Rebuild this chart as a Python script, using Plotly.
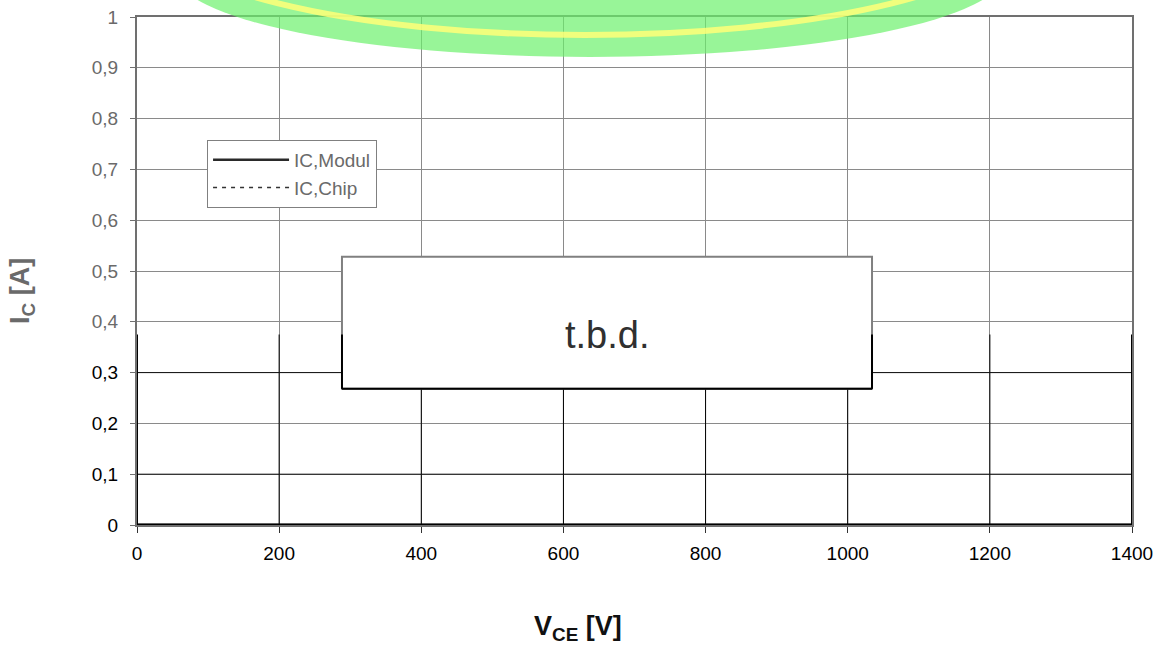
import plotly.graph_objects as go

# ---- data ----
x_ticks = [0, 200, 400, 600, 800, 1000, 1200, 1400]
y_ticks = [0, 0.1, 0.2, 0.3, 0.4, 0.5, 0.6, 0.7, 0.8, 0.9, 1]
y_tick_labels = ["0", "0,1", "0,2", "0,3", "0,4", "0,5", "0,6", "0,7", "0,8", "0,9", "1"]
series_names = ["IC,Modul", "IC,Chip"]
vce_modul = [0, 1400]
ic_modul = [0, 0]
vce_chip = [0, 1400]
ic_chip = [0, 0]
tbd_box_x = [288.4, 1034.2]
tbd_box_y = [0.268, 0.528]
dark_limit = 0.375  # lower part of the picture is rendered darker

FONT = "Arial, Liberation Sans, sans-serif"
GRAY_TXT = "#6a6a6a"
GRID = "#8a8a8a"

fig = go.Figure()
fig.add_trace(go.Scatter(x=vce_chip, y=ic_chip, mode="lines", name=series_names[1],
                         line=dict(color="#333333", width=1.3, dash="4px,5px")))
fig.add_trace(go.Scatter(x=vce_modul, y=ic_modul, mode="lines", name=series_names[0],
                         line=dict(color="#2a2a2a", width=2.5)))

ytext = [f'<span style="color:black">{t}</span>' if v < dark_limit else t
         for v, t in zip(y_ticks, y_tick_labels)]

shapes = []
# darker lower part: vertical grid lines and axes
for xv in x_ticks:
    edge = xv in (x_ticks[0], x_ticks[-1])
    shapes.append(dict(type="line", xref="x", yref="y", x0=xv, x1=xv, y0=0, y1=dark_limit,
                       line=dict(color="black", width=2 if edge else 1),
                       layer="above" if edge else "between"))
for yv in y_ticks:
    if 0 < yv < dark_limit and yv != 0.2:
        shapes.append(dict(type="line", xref="x", yref="y", x0=x_ticks[0], x1=x_ticks[-1], y0=yv, y1=yv,
                           line=dict(color="#111111", width=1), layer="between"))
# thick dark bottom axis
shapes.append(dict(type="line", xref="x", yref="y", x0=x_ticks[0], x1=x_ticks[-1], y0=0, y1=0,
                   line=dict(color="black", width=3), layer="above"))
# t.b.d. box
shapes.append(dict(type="rect", xref="x", yref="y", x0=tbd_box_x[0], x1=tbd_box_x[1],
                   y0=tbd_box_y[0], y1=tbd_box_y[1], fillcolor="white",
                   line=dict(color="#808080", width=2), layer="above"))
for xv in tbd_box_x:
    shapes.append(dict(type="line", xref="x", yref="y", x0=xv, x1=xv, y0=tbd_box_y[0], y1=dark_limit,
                       line=dict(color="black", width=2), layer="above"))
shapes.append(dict(type="line", xref="x", yref="y", x0=tbd_box_x[0], x1=tbd_box_x[1],
                   y0=tbd_box_y[0], y1=tbd_box_y[0], line=dict(color="black", width=2), layer="above"))
# green/yellow watermark glow at top
shapes.append(dict(type="circle", xref="paper", yref="paper", x0=0.0382, x1=0.8724, y0=0.9213, y1=1.254,
                   fillcolor="rgba(108,241,108,0.7)", line=dict(width=0), layer="above"))
shapes.append(dict(type="circle", xref="paper", yref="paper", x0=0.0141, x1=0.8865, y0=0.9646, y1=1.3898,
                   fillcolor="rgba(0,0,0,0)", line=dict(color="rgba(255,255,120,0.85)", width=6),
                   layer="above"))

fig.update_layout(
    width=1160, height=646,
    margin=dict(l=137, r=28, t=17, b=121),
    paper_bgcolor="white", plot_bgcolor="white",
    font=dict(family=FONT, size=19, color=GRAY_TXT),
    shapes=shapes,
    showlegend=True,
    legend=dict(x=0.0704, y=0.758, xanchor="left", yanchor="top",
                bgcolor="white", bordercolor="#808080", borderwidth=1,
                font=dict(family=FONT, size=19, color=GRAY_TXT),
                itemwidth=76, tracegroupgap=0, traceorder="reversed"),
    annotations=[
        dict(text="t.b.d.", xref="x", yref="y",
             x=(tbd_box_x[0] + tbd_box_x[1]) / 2, y=(tbd_box_y[0] + tbd_box_y[1]) / 2 - 0.024,
             showarrow=False, font=dict(family=FONT, size=38, color="#303030")),
        dict(text="<b>V<sub>CE</sub> [V]</b>", xref="paper", yref="paper", x=0.443, y=-0.203,
             xanchor="center", yanchor="middle", showarrow=False,
             font=dict(family=FONT, size=27, color="#111111")),
        dict(text="<b>I<sub>C</sub> [A]</b>", xref="paper", yref="paper", x=-0.115, y=0.46,
             xanchor="center", yanchor="middle", showarrow=False, textangle=-90,
             font=dict(family=FONT, size=27, color=GRAY_TXT)),
    ],
)

fig.update_xaxes(range=[0, 1400], tickvals=x_ticks, ticktext=[str(v) for v in x_ticks],
                 showgrid=True, gridcolor=GRID, gridwidth=1, automargin=False,
                 showline=True, linecolor="#707070", linewidth=2, mirror=True,
                 ticks="outside", ticklen=6, tickcolor="#333333",
                 tickfont=dict(color="black"), zeroline=False, ticklabelstandoff=4)
fig.update_yaxes(range=[0, 1], tickvals=y_ticks, ticktext=ytext,
                 showgrid=True, gridcolor=GRID, gridwidth=1, automargin=False,
                 showline=True, linecolor="#707070", linewidth=2, mirror=True,
                 ticks="outside", ticklen=5, tickcolor="#707070",
                 zeroline=False, ticklabelstandoff=8)

fig.write_html("out.html", config={"displayModeBar": False},
               post_script="document.body.style.margin='0';")
